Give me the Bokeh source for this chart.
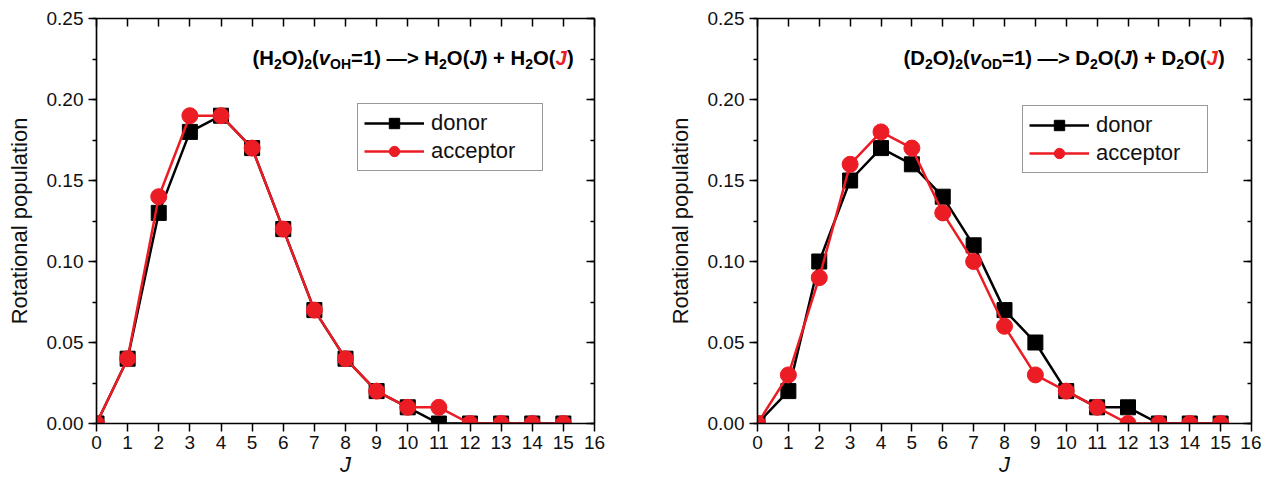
from bokeh.plotting import figure
from bokeh.layouts import row
from bokeh.models import (Range1d, LinearAxis, SingleIntervalTicker, PrintfTickFormatter,
                          CustomJSTickFormatter, Label, Legend, LegendItem)
from bokeh.embed import file_html
from bokeh.resources import INLINE

# ---------------- data ----------------
J = list(range(16))
h2o_donor = [0.00, 0.04, 0.13, 0.18, 0.19, 0.17, 0.12, 0.07, 0.04, 0.02, 0.01, 0.00, 0.00, 0.00, 0.00, 0.00]
h2o_acceptor = [0.00, 0.04, 0.14, 0.19, 0.19, 0.17, 0.12, 0.07, 0.04, 0.02, 0.01, 0.01, 0.00, 0.00, 0.00, 0.00]
d2o_donor = [0.00, 0.02, 0.10, 0.15, 0.17, 0.16, 0.14, 0.11, 0.07, 0.05, 0.02, 0.01, 0.01, 0.00, 0.00, 0.00]
d2o_acceptor = [0.00, 0.03, 0.09, 0.16, 0.18, 0.17, 0.13, 0.10, 0.06, 0.03, 0.02, 0.01, 0.00, 0.00, 0.00, 0.00]
series_labels = ["donor", "acceptor"]
y_label = "Rotational population"
x_label = "J"

RED = "#ec1c24"
BLACK = "#000000"
FONT = "Liberation Sans"
FRAME_H = 405
XR = (0, 16)
YR = (0, 0.25)

# Arial/Liberation Sans Bold advance widths (per 1000 em)
WID = {'(': 333, ')': 333, 'H': 722, 'O': 778, 'D': 722, '2': 556, '1': 556, 'v': 556,
       '=': 584, ' ': 278, '\u2014': 1000, '>': 584, 'J': 556, '+': 584}


def text_w(t, size):
    return sum(WID.get(c, 556) for c in t) / 1000.0 * size


def add_rich(p, fw, x_px, y_px, segs):
    x = x_px
    for text, size, style, color, dy in segs:
        xd = XR[0] + x / fw * (XR[1] - XR[0])
        yd = YR[1] - (y_px + dy) / FRAME_H * (YR[1] - YR[0])
        p.add_layout(Label(x=xd, y=yd, text=text, text_font=FONT, text_font_size=f"{size}px",
                           text_font_style=style, text_color=color,
                           text_baseline="alphabetic", text_align="left"))
        x += text_w(text, size)


def title_segs(mol, vib):
    M, S = 20.3, 14
    return [
        ("(" + mol, M, "bold", BLACK, 0), ("2", S, "bold", BLACK, 6),
        ("O)", M, "bold", BLACK, 0), ("2", S, "bold", BLACK, 6),
        ("(", M, "bold", BLACK, 0), ("v", M, "bold italic", BLACK, 0),
        (vib, S, "bold", BLACK, 6),
        ("=1) \u2014> " + mol, M, "bold", BLACK, 0), ("2", S, "bold", BLACK, 6),
        ("O(", M, "bold", BLACK, 0), ("J", M, "bold italic", BLACK, 0),
        (") + " + mol, M, "bold", BLACK, 0), ("2", S, "bold", BLACK, 6),
        ("O(", M, "bold", BLACK, 0), ("J", M, "bold italic", RED, 0),
        (")", M, "bold", BLACK, 0),
    ]


def make_panel(donor, acceptor, fw, left_border, right_border, title, title_x, legend_loc):
    p = figure(frame_width=fw, frame_height=FRAME_H, output_backend="svg", toolbar_location=None,
               x_range=Range1d(*XR), y_range=Range1d(*YR),
               min_border_left=left_border, min_border_right=right_border,
               min_border_top=18, min_border_bottom=20)
    p.xgrid.grid_line_color = None
    p.ygrid.grid_line_color = None
    p.outline_line_color = BLACK
    p.outline_line_width = 1.2
    p.background_fill_color = "white"
    p.border_fill_color = "white"

    p.xaxis.ticker = SingleIntervalTicker(interval=1, num_minor_ticks=0)
    p.yaxis.ticker = SingleIntervalTicker(interval=0.05, num_minor_ticks=2)
    p.yaxis.formatter = PrintfTickFormatter(format="%.2f")
    for ax in (p.xaxis[0], p.yaxis[0]):
        ax.axis_line_width = 1.5
        ax.major_tick_line_width = 1.5
        ax.minor_tick_line_width = 1.5
        ax.major_tick_out = 8
        ax.major_tick_in = 0
        ax.minor_tick_out = 4
        ax.minor_tick_in = 0
        ax.major_label_text_font = FONT
        ax.major_label_text_font_size = "19px"
        ax.major_label_text_color = "#111111"
        ax.axis_label_text_font = FONT
        ax.axis_label_text_font_size = "22px"
        ax.axis_label_text_font_style = "normal"
        ax.axis_label_text_color = "#111111"
        ax.major_label_standoff = 5
    p.yaxis.axis_label = y_label
    p.yaxis.axis_label_standoff = 12
    p.xaxis.axis_label = x_label
    p.xaxis.axis_label_text_font_style = "italic"
    p.xaxis.major_label_standoff = 4
    p.xaxis.axis_label_standoff = 0

    blank = CustomJSTickFormatter(code="return ''")
    top = LinearAxis(ticker=SingleIntervalTicker(interval=1, num_minor_ticks=0),
                     formatter=blank, major_tick_in=8, major_tick_out=0,
                     minor_tick_in=0, minor_tick_out=0, axis_line_width=1.5,
                     major_tick_line_width=1.5, major_label_standoff=0)
    right = LinearAxis(ticker=SingleIntervalTicker(interval=0.05, num_minor_ticks=2),
                       formatter=blank, major_tick_in=8, major_tick_out=0,
                       minor_tick_in=4, minor_tick_out=0, axis_line_width=1.5,
                       major_tick_line_width=1.5, minor_tick_line_width=1.5, major_label_standoff=0)
    p.add_layout(top, "above")
    p.add_layout(right, "right")

    l1 = p.line(J, donor, line_color=BLACK, line_width=2.5)
    s1 = p.scatter(J, donor, marker="square", size=15, fill_color=BLACK, line_color=BLACK)
    l2 = p.line(J, acceptor, line_color=RED, line_width=2.5)
    s2 = p.scatter(J, acceptor, marker="circle", size=16, fill_color=RED, line_color=RED)

    leg = Legend(items=[LegendItem(label=series_labels[0], renderers=[l1, s1]),
                        LegendItem(label=series_labels[1], renderers=[l2, s2])],
                 location=legend_loc, glyph_width=60, glyph_height=26, label_height=26,
                 label_width=105, label_standoff=7, spacing=2, padding=6, margin=0,
                 label_text_font=FONT, label_text_font_size="22px", label_text_color="#111111",
                 border_line_color="#333333", border_line_width=1.2,
                 background_fill_alpha=1.0)
    p.add_layout(leg)

    add_rich(p, fw, title_x, 39, title)
    return p


p1 = make_panel(h2o_donor, h2o_acceptor, 498, 96, 28, title_segs("H", "OH"), 156, (261, 252))
p2 = make_panel(d2o_donor, d2o_acceptor, 494, 135, 10, title_segs("D", "OD"), 146, (265, 250))

layout = row(p1, p2)
open("out.html", "w").write(file_html(layout, INLINE))
